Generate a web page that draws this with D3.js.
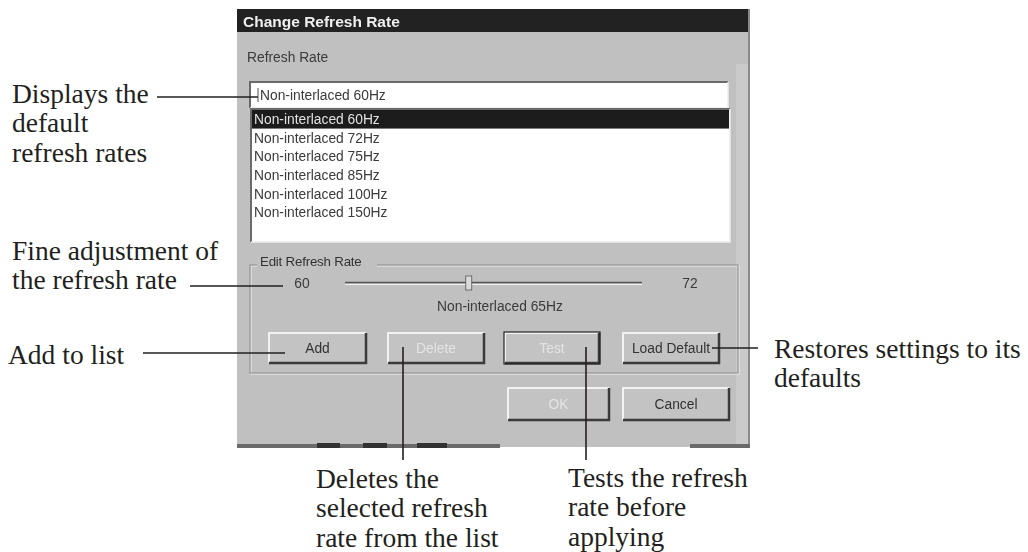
<!DOCTYPE html>
<html><head><meta charset="utf-8">
<script src="https://cdn.jsdelivr.net/npm/d3@7"></script>
<style>
html,body{margin:0;padding:0;background:#fff;}
svg{display:block;}
</style></head>
<body>
<script>
// ---- data ----
const dialogTitle = "Change Refresh Rate";
const groupLabel = "Refresh Rate";
const currentRate = "Non-interlaced 60Hz";
const rateList = ["Non-interlaced 60Hz","Non-interlaced 72Hz","Non-interlaced 75Hz","Non-interlaced 85Hz","Non-interlaced 100Hz","Non-interlaced 150Hz"];
const selectedIndex = 0;
const editLabel = "Edit Refresh Rate";
const sliderMin = 60, sliderMax = 72, sliderValue = 65;
const sliderCaption = "Non-interlaced 65Hz";
const rowButtons = ["Add","Delete","Test","Load Default"];
const rowButtonsEnabled = [true,false,false,true];
const footButtons = ["OK","Cancel"];
const footButtonsEnabled = [false,true];
const calloutLeft = [
  ["Displays the","default","refresh rates"],
  ["Fine adjustment of","the refresh rate"],
  ["Add to list"]
];
const calloutRight = ["Restores settings to its","defaults"];
const calloutBottom = [
  ["Deletes the","selected refresh","rate from the list"],
  ["Tests the refresh","rate before","applying"]
];

// ---- drawing ----
const W = 1028, H = 552;
const svg = d3.select("body").append("svg").attr("width", W).attr("height", H);
const defs = svg.append("defs");
defs.append("filter").attr("id","soft").append("feGaussianBlur").attr("stdDeviation",0.5);

const ui = svg.append("g").attr("filter","url(#soft)");
const uiFont = "'Liberation Sans', Arial, sans-serif";
const serif = "'Liberation Serif', 'Times New Roman', serif";
const ink = "#231f20";
const uiText = "#3a3a3a";
const fs = 13.8;

// dialog frame
const dlg = {x0:237, x1:750, y0:9, y1:447};
ui.append("rect").attr("x",dlg.x0).attr("y",dlg.y0).attr("width",dlg.x1-dlg.x0).attr("height",dlg.y1-dlg.y0).attr("fill","#c0c0c0");
ui.append("rect").attr("x",dlg.x1-14).attr("y",64).attr("width",12).attr("height",dlg.y1-66).attr("fill","#cacaca");
ui.append("line").attr("x1",dlg.x1-1).attr("x2",dlg.x1-1).attr("y1",dlg.y0).attr("y2",dlg.y1).attr("stroke","#8a8a8a").attr("stroke-width",2);
// title bar
ui.append("rect").attr("x",dlg.x0).attr("y",dlg.y0).attr("width",dlg.x1-dlg.x0-2).attr("height",23).attr("fill","#222");
ui.append("text").attr("x",243).attr("y",26.5).attr("fill","#f0f0f0").attr("font-family",uiFont).attr("font-weight","bold").attr("font-size",15.5).text(dialogTitle);
// bottom strip (underlying window)
ui.append("rect").attr("x",dlg.x0).attr("y",dlg.y1-3).attr("width",263).attr("height",4).attr("fill","#6a6a6a");
ui.append("rect").attr("x",690).attr("y",dlg.y1-3).attr("width",dlg.x1-690).attr("height",4).attr("fill","#6a6a6a");
const stripBits = [[317,23],[363,24],[417,30]];
ui.selectAll("rect.bit").data(stripBits).join("rect").attr("class","bit")
  .attr("x",d=>d[0]).attr("y",dlg.y1-4).attr("width",d=>d[1]).attr("height",5).attr("fill","#333");

// "Refresh Rate" label
ui.append("text").attr("x",247).attr("y",62).attr("fill",uiText).attr("font-family",uiFont).attr("font-size",fs).text(groupLabel);

function sunken(g,x,y,w,h){
  g.append("rect").attr("x",x).attr("y",y).attr("width",w).attr("height",h).attr("fill","#fff");
  g.append("path").attr("d",`M${x},${y+h}V${y}H${x+w}`).attr("fill","none").attr("stroke","#6a6a6a").attr("stroke-width",2);
  g.append("path").attr("d",`M${x},${y+h}H${x+w}V${y}`).attr("fill","none").attr("stroke","#ececec").attr("stroke-width",1.5);
}
// text box
sunken(ui,250,82,478,26);
ui.append("line").attr("x1",258).attr("x2",258).attr("y1",88).attr("y2",102).attr("stroke","#555").attr("stroke-width",1);
ui.append("text").attr("x",260).attr("y",100).attr("fill",uiText).attr("font-family",uiFont).attr("font-size",fs).text(currentRate);

// list box
sunken(ui,251,109,479,133);
const rowY = d3.scaleBand().domain(d3.range(7)).range([110,240]).paddingInner(0);
ui.append("rect").attr("x",252).attr("y",rowY(selectedIndex)).attr("width",477).attr("height",rowY.bandwidth()).attr("fill","#1c1c1c");
ui.selectAll("text.row").data(rateList).join("text").attr("class","row")
  .attr("x",254).attr("y",(d,i)=>rowY(i)+rowY.bandwidth()/2+5)
  .attr("fill",(d,i)=>i===selectedIndex?"#e0e0e0":uiText)
  .attr("font-family",uiFont).attr("font-size",fs).text(d=>d);

// group box
const gb = {x:250,y:265,w:488,h:108};
ui.append("rect").attr("x",gb.x+1).attr("y",gb.y+1).attr("width",gb.w).attr("height",gb.h).attr("fill","none").attr("stroke","#f0f0f0");
ui.append("rect").attr("x",gb.x).attr("y",gb.y).attr("width",gb.w).attr("height",gb.h).attr("fill","none").attr("stroke","#8a8a8a");
ui.append("rect").attr("x",257).attr("y",255).attr("width",120).attr("height",14).attr("fill","#c0c0c0");
ui.append("text").attr("x",260).attr("y",266).attr("fill","#333").attr("font-family",uiFont).attr("font-size",fs-0.5).attr("letter-spacing",-0.2).text(editLabel);

// slider
const sx = d3.scaleLinear().domain([sliderMin,sliderMax]).range([345,642]);
ui.append("text").attr("x",302).attr("y",288).attr("text-anchor","middle").attr("fill",uiText).attr("font-family",uiFont).attr("font-size",fs).text(sliderMin);
ui.append("text").attr("x",690).attr("y",288).attr("text-anchor","middle").attr("fill",uiText).attr("font-family",uiFont).attr("font-size",fs).text(sliderMax);
ui.append("line").attr("x1",sx(sliderMin)).attr("x2",sx(sliderMax)).attr("y1",282.5).attr("y2",282.5).attr("stroke","#555").attr("stroke-width",1.5);
ui.append("line").attr("x1",sx(sliderMin)).attr("x2",sx(sliderMax)).attr("y1",284.5).attr("y2",284.5).attr("stroke","#f2f2f2").attr("stroke-width",1.2);
const tx = sx(sliderValue);
ui.append("rect").attr("x",tx-3).attr("y",276).attr("width",6).attr("height",14).attr("fill","#dadada").attr("stroke","#555").attr("stroke-width",0.8);
ui.append("text").attr("x",500).attr("y",311).attr("text-anchor","middle").attr("fill",uiText).attr("font-family",uiFont).attr("font-size",fs).text(sliderCaption);

function button(g,x,y,w,h,label,enabled,isDefault){
  g.append("rect").attr("x",x).attr("y",y).attr("width",w).attr("height",h).attr("fill","#c3c3c3");
  g.append("path").attr("d",`M${x+1},${y+h-1}V${y+1}H${x+w-1}`).attr("fill","none").attr("stroke","#f2f2f2").attr("stroke-width",2);
  g.append("path").attr("d",`M${x+1},${y+h-1}H${x+w-1}V${y+1}`).attr("fill","none").attr("stroke","#3a3a3a").attr("stroke-width",2.5);
  if(isDefault) g.append("rect").attr("x",x).attr("y",y).attr("width",w).attr("height",h).attr("fill","none").attr("stroke","#222").attr("stroke-width",1.2);
  g.append("text").attr("x",x+w/2).attr("y",y+h/2+5).attr("text-anchor","middle")
    .attr("fill",enabled?"#333":"#e4e4e4").attr("font-family",uiFont).attr("font-size",fs).text(label);
}
const rowBtnX = [268,387,504,622], rowBtnW = [99,98,96,98];
rowButtons.forEach((b,i)=>button(ui,rowBtnX[i],332,rowBtnW[i],32,b,rowButtonsEnabled[i],i===2));
const footX = [507,622], footW = [103,108];
footButtons.forEach((b,i)=>button(ui,footX[i],387,footW[i],34,b,footButtonsEnabled[i],false));

// ---- callouts ----
const ann = svg.append("g").attr("font-family",serif).attr("font-size",27.5).attr("fill",ink);
const lh = 29.3;
function block(x,y0,lines){
  ann.append("g").selectAll("text").data(lines).join("text").attr("x",x).attr("y",(d,i)=>y0+i*lh).text(d=>d);
}
block(12,103,calloutLeft[0]);
block(12,260,calloutLeft[1]);
block(8,364,calloutLeft[2]);
block(774,358,calloutRight);
block(316,488,calloutBottom[0]);
block(568,487,calloutBottom[1]);

const leaders = [
  [[157,97],[258,97]],
  [[190,286],[283,286]],
  [[143,353],[285,353]],
  [[712,348],[758,348]],
  [[403,347],[403,460]],
  [[586,347],[586,460]]
];
svg.append("g").selectAll("path").data(leaders).join("path")
  .attr("d",d=>d3.line()(d)).attr("stroke",ink).attr("stroke-width",1.6).attr("fill","none");
</script>
</body></html>
